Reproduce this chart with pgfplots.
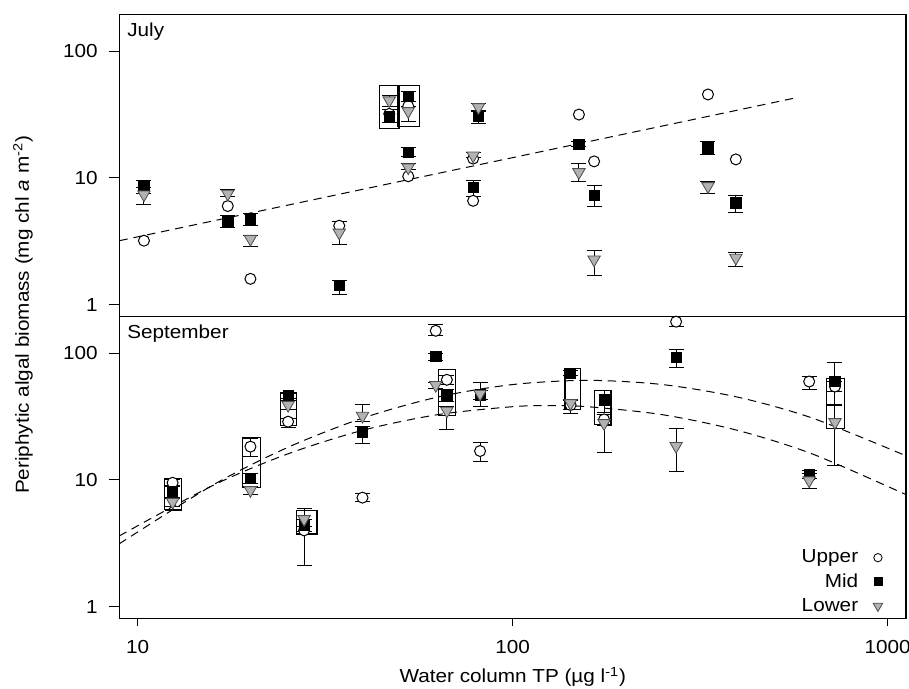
\documentclass[border=0pt]{standalone}
\usepackage{fontspec}
\setmainfont{Liberation Sans}[FakeStretch=1.1]
\usepackage{pgfplots}
\pgfplotsset{compat=1.18}
\definecolor{trifill}{RGB}{178,178,178}
\definecolor{triedge}{RGB}{80,80,80}
\newcommand{\lblfont}{\fontsize{11.3}{13}\selectfont}
\begin{document}
\begin{tikzpicture}
% ---------------- July ----------------
\begin{axis}[scale only axis, width=471.9pt, height=181.2pt,
    xmode=log, ymode=log, xmin=8.95, xmax=1120, ymin=0.81, ymax=195,
    tick pos=left, tick align=outside, major tick length=6.6pt,
    minor tick length=0pt, minor tick style={draw=none},
    ytick={1,10,100}, yticklabels={1,10,100},
    axis line style={line width=0.8pt},
    tick style={black, line width=0.6pt},
    tick label style={font=\lblfont},
    yticklabel style={xshift=-3pt},
    at={(0pt,181.2pt)}, anchor=south west, xtick=\empty]
\addplot[black, line width=0.6pt, dash pattern=on 5pt off 3.5pt, forget plot] coordinates {(8.95,3.2) (569,42.8)};
\addplot[black, line width=0.7pt, forget plot] coordinates {(44.1,24.5) (49.8,24.5) (49.8,53.6) (44.1,53.6) (44.1,24.5)};
\addplot[black, line width=0.7pt, forget plot] coordinates {(49.3,25.3) (56.4,25.3) (56.4,53.8) (49.3,53.8) (49.3,25.3)};
\addplot[only marks, mark=*, mark size=3.3pt, mark options={fill=white, draw=black, line width=0.6pt}] coordinates {(10.4,3.2) (17.4,6.0) (20,1.6) (34.5,4.2) (46.9,32) (52.7,36.8) (52.7,10.3) (78.5,14.2) (78.5,6.6) (150.3,31.6) (165,13.5) (332,45.5) (394,14.0)};
\addplot[only marks, mark=square*, mark size=3.1pt, mark options={fill=black, draw=black},
  error bars/.cd, y dir=both, y explicit, error bar style={black, line width=0.6pt}, error mark options={rotate=90, black, mark size=4.5pt, line width=0.6pt}] coordinates {
(10.4,8.6) +- (0,1.0)
(17.4,4.6) +- (0,0.5)
(20,4.7) +- (0,0.5)
(34.5,1.42) += (0,0.14) -= (0,0.22)
(46.9,30.7) += (0,4) -= (0,3.5)
(52.7,44.1) += (0,4) -= (0,3.7)
(52.7,16) +- (0,1.3)
(81.1,30.7) += (0,3) -= (0,4)
(78.5,8.4) += (0,1.1) -= (0,1.2)
(150.3,18.5) +- (0,0.8)
(165,7.3) +- (0,1.4)
(332,17.3) +- (0,2)
(394,6.35) += (0,0.95) -= (0,1.05)
};
\addplot[only marks, mark=triangle*, mark size=4.3pt, mark options={rotate=180, fill=trifill, draw=triedge, line width=0.5pt},
  error bars/.cd, y dir=both, y explicit, error bar style={black, line width=0.6pt}, error mark options={rotate=90, black, mark size=4.5pt, line width=0.6pt}] coordinates {
(10.4,7.4) += (0,1.0) -= (0,1.2)
(17.4,7.5) += (0,0.6) -= (0,0.3)
(20,3.3) += (0,0.2) -= (0,0.4)
(34.5,3.7) += (0,0.8) -= (0,0.7)
(46.9,40.8) +- (0,4)
(52.7,33.6) += (0,3) -= (0,5.6)
(52.7,12.1) += (0,1) -= (0,0.5)
(81.1,36.1) += (0,2.5) -= (0,2)
(78.5,15.0) += (0,1) -= (0,0.5)
(150.3,11.1) += (0,1.8) -= (0,1.7)
(165,2.27) += (0,0.43) -= (0,0.57)
(332,8.6) += (0,0.8) -= (0,1.1)
(394,2.34) += (0,0.26) -= (0,0.34)
};
\node[anchor=north west, font=\lblfont, inner sep=0pt, xshift=4.5pt, yshift=-5pt] at (rel axis cs:0,1) {July};
\end{axis}
% ---------------- September ----------------
\begin{axis}[scale only axis, width=471.9pt, height=181.2pt,
    xmode=log, ymode=log, xmin=8.95, xmax=1120, ymin=0.81, ymax=195,
    tick pos=left, tick align=outside, major tick length=6.6pt,
    minor tick length=0pt, minor tick style={draw=none},
    ytick={1,10,100}, yticklabels={1,10,100},
    axis line style={line width=0.8pt},
    tick style={black, line width=0.6pt},
    tick label style={font=\lblfont},
    yticklabel style={xshift=-3pt},
  xtick style={/pgfplots/major tick length=4.8pt},
  xticklabel style={yshift=-3pt},
  at={(0pt,0pt)}, anchor=south west,
  xtick={10,100,1000}, xticklabels={10,100,1000},
  xlabel={Water column TP (µg l\textsuperscript{-1})},
  xlabel style={font=\lblfont, at={(axis description cs:0.5,0)}, anchor=center, yshift=-35.2pt},
  legend plot pos=right,
  legend style={draw=none, fill=none, font=\lblfont, at={(axis description cs:1,0)}, anchor=south east,
    xshift=-10.8pt, yshift=-1.4pt, row sep=1pt, column sep=7pt, cells={anchor=east}}]
\addlegendimage{only marks, mark=*, mark size=2.5pt, mark options={fill=white, draw=black, line width=0.5pt}}
\addlegendentry{Upper}
\addlegendimage{only marks, mark=square*, mark size=2.4pt, mark options={fill=black, draw=black}}
\addlegendentry{Mid}
\addlegendimage{only marks, mark=triangle*, mark size=3.3pt, mark options={rotate=180, fill=trifill, draw=triedge, line width=0.5pt}}
\addlegendentry{Lower}
\addplot[black, line width=0.6pt, dash pattern=on 5pt off 3.5pt, forget plot, smooth] coordinates {(8.93,3.13) (15.85,9.08) (25.1,18.0) (39.8,30.7) (63.1,45.0) (100,56.5) (158.5,61.0) (251,56.5) (398,45.0) (631,30.7) (1120,15.5)};
\addplot[black, line width=0.6pt, dash pattern=on 5pt off 3.5pt, forget plot, smooth] coordinates {(8.93,3.61) (15.85,9.02) (25.1,16.0) (39.8,24.6) (63.1,32.7) (100,37.8) (125.9,38.5) (158.5,37.8) (251,32.7) (398,24.6) (631,16.0) (1120,7.66)};
\addplot[black, line width=0.7pt, forget plot] coordinates {(11.8,5.8) (13.1,5.8) (13.1,10.2) (11.8,10.2) (11.8,5.8)};
\addplot[black, line width=0.7pt, forget plot] coordinates {(19.0,8.76) (21.3,8.76) (21.3,21.7) (19.0,21.7) (19.0,8.76)};
\addplot[black, line width=0.7pt, forget plot] coordinates {(24,26.8) (26.6,26.8) (26.6,48.9) (24,48.9) (24,26.8)};
\addplot[black, line width=0.7pt, forget plot] coordinates {(26.5,3.75) (30.1,3.75) (30.1,5.7) (26.5,5.7) (26.5,3.75)};
\addplot[black, line width=0.7pt, forget plot] coordinates {(63.4,32) (70.6,32) (70.6,73.8) (63.4,73.8) (63.4,32)};
\addplot[black, line width=0.7pt, forget plot] coordinates {(138,36.1) (152,36.1) (152,76.2) (138,76.2) (138,36.1)};
\addplot[black, line width=0.7pt, forget plot] coordinates {(165,27.2) (183,27.2) (183,50.4) (165,50.4) (165,27.2)};
\addplot[black, line width=0.7pt, forget plot] coordinates {(689,25.3) (767,25.3) (767,63.5) (689,63.5) (689,25.3)};
\addplot[forget plot, only marks, mark=*, mark size=3.3pt, mark options={fill=white, draw=black, line width=0.6pt},
  error bars/.cd, y dir=both, y explicit, error bar style={black, line width=0.6pt}, error mark options={rotate=90, black, mark size=4.5pt, line width=0.6pt}] coordinates {
(12.4,9.5) +- (0,0.5)
(20,18.3) +- (0,3)
(25.2,28.8) += (0,1.5) -= (0,2.7)
(27.8,4.0) +- (0,0.3)
(39.8,7.25) +- (0,0.5)
(62.4,150) += (0,17) -= (0,13)
(66.8,61.6) +- (0,5)
(81.9,16.9) +- (0,2.8)
(142.8,39) +- (0,3)
(175.4,30) +- (0,3)
(273,177) += (0,20) -= (0,15)
(618,59.7) += (0,5.6) -= (0,7.7)
(724,54.5) +- (0,5)
};
\addplot[forget plot, only marks, mark=square*, mark size=3.1pt, mark options={fill=black, draw=black},
  error bars/.cd, y dir=both, y explicit, error bar style={black, line width=0.6pt}, error mark options={rotate=90, black, mark size=4.5pt, line width=0.6pt}] coordinates {
(12.4,8.1) +- (0,0.8)
(20,10.3) +- (0,1)
(25.2,46) +- (0,2)
(27.8,4.4) +- (0,0.5)
(39.8,23.6) += (0,3) -= (0,4.1)
(62.4,94) +- (0,6)
(66.8,46.9) +- (0,5)
(81.9,47) +- (0,4)
(142.8,69.5) +- (0,3)
(175.4,42.8) += (0,7.6) -= (0,9)
(273,92.3) += (0,15.3) -= (0,14.7)
(618,11.1) +- (0,0.8)
(724,59.7) += (0,24.6) -= (0,20)
};
\addplot[forget plot, only marks, mark=triangle*, mark size=4.3pt, mark options={rotate=180, fill=trifill, draw=triedge, line width=0.5pt},
  error bars/.cd, y dir=both, y explicit, error bar style={black, line width=0.6pt}, error mark options={rotate=90, black, mark size=4.5pt, line width=0.6pt}] coordinates {
(12.4,6.7) +- (0,0.5)
(20,8.3) +- (0,0.6)
(25.2,39) +- (0,3)
(27.8,4.9) += (0,1.0) -= (0,2.8)
(39.8,32) += (0,7) -= (0,3)
(62.4,56) +- (0,3)
(66.8,35.1) += (0,3) -= (0,10.3)
(81.9,47.7) += (0,11) -= (0,9.8)
(142.8,40.3) += (0,3) -= (0,7.1)
(175.4,28) += (0,5) -= (0,11.6)
(273,18.5) += (0,7.1) -= (0,6.9)
(618,9.9) += (0,1.4) -= (0,1.3)
(724,28.5) += (0,10) -= (0,15.6)
};
\node[anchor=north west, font=\lblfont, inner sep=0pt, xshift=4.5pt, yshift=-5pt] at (rel axis cs:0,1) {September};
\end{axis}
\node[rotate=90, font=\lblfont] at (-57.9pt,182pt) {Periphytic algal biomass (mg chl \textit{a} m\textsuperscript{-2})};
\pgfresetboundingbox
\useasboundingbox (-71.7pt,-41.8pt) rectangle (473.7pt,371pt);
\end{tikzpicture}
\end{document}
